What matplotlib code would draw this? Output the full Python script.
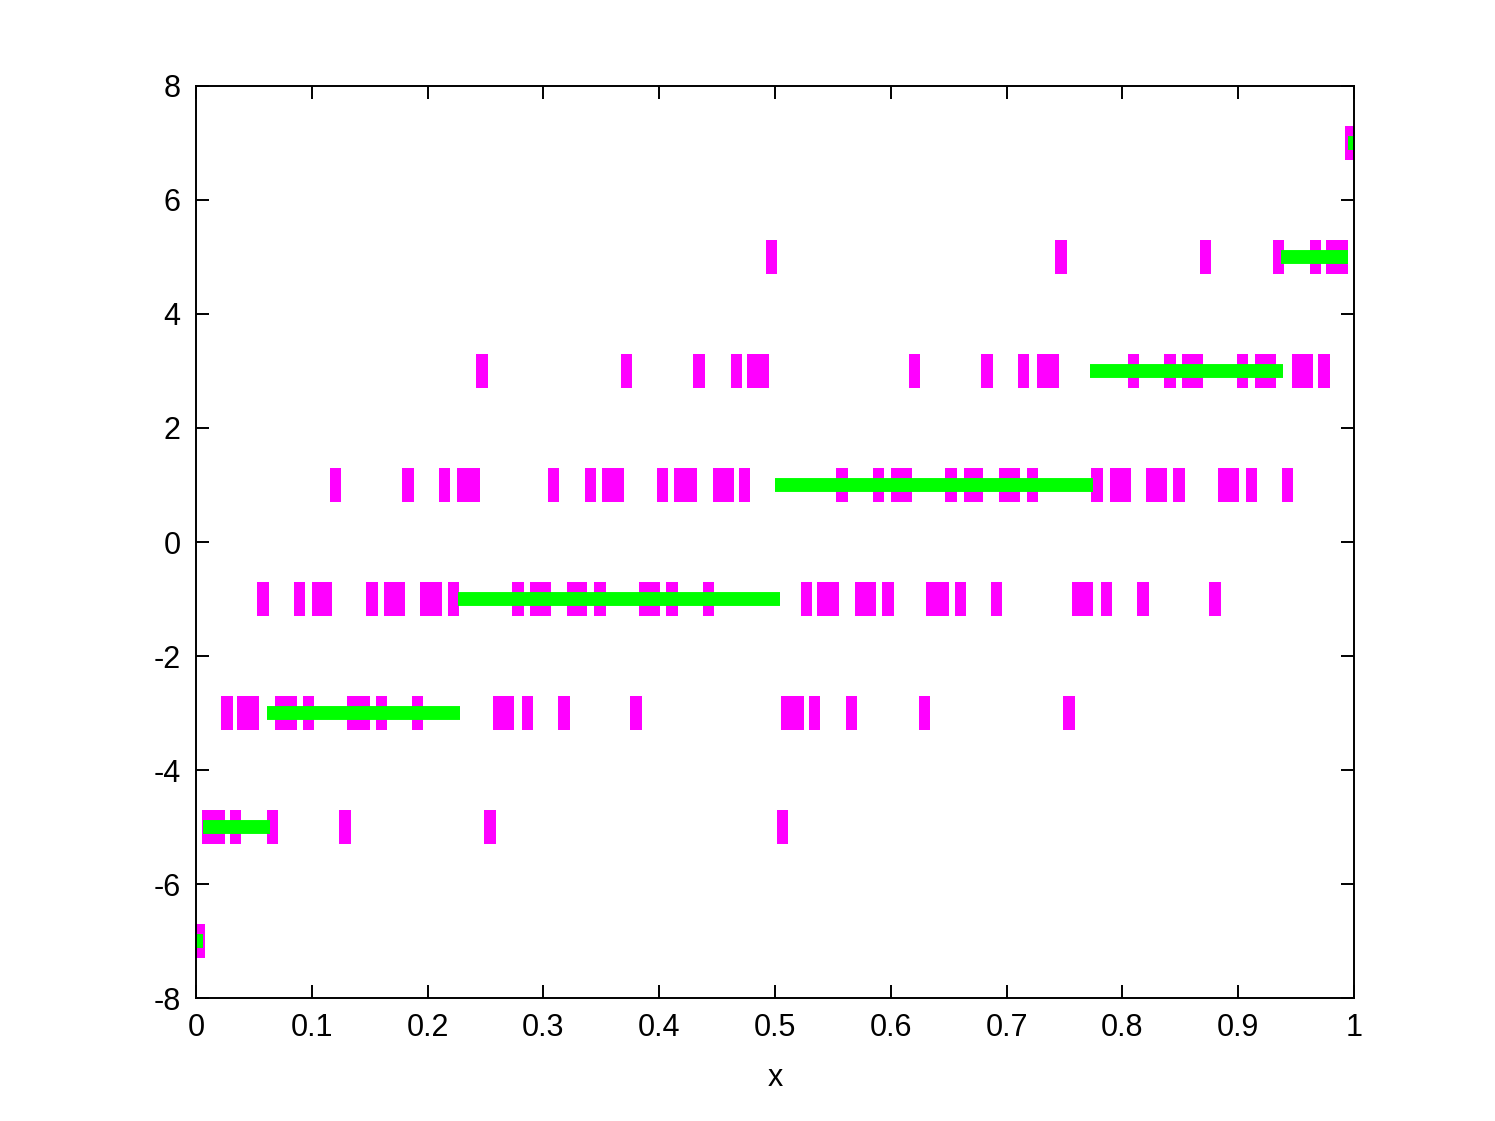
import matplotlib
matplotlib.use("Agg")
import matplotlib.pyplot as plt

plt.rcParams['axes.unicode_minus'] = False

# sample positions (x) for each level (magenta ticks)
levels = [-7, -5, -3, -1, 1, 3, 5, 7]
x_m7 = [0.003]
x_m5 = [0.0104, 0.0199, 0.0339, 0.0662, 0.1287, 0.254, 0.5063]
x_m3 = [0.0267, 0.0406, 0.0497, 0.073, 0.082, 0.0974, 0.1356, 0.145, 0.16, 0.1915,
        0.261, 0.270, 0.2865, 0.3177, 0.380, 0.5104, 0.520, 0.534, 0.566, 0.629, 0.754]
x_m1 = [0.058, 0.0895, 0.1054, 0.1127, 0.152, 0.1675, 0.1757, 0.198, 0.2077, 0.2226,
        0.278, 0.293, 0.302, 0.3256, 0.333, 0.349, 0.3877, 0.3955, 0.411, 0.4427,
        0.527, 0.541, 0.550, 0.574, 0.582, 0.5977, 0.6356, 0.6455, 0.660, 0.6913,
        0.761, 0.770, 0.7864, 0.8178, 0.880]
x_p1 = [0.1205, 0.183, 0.2147, 0.230, 0.240, 0.309, 0.3406, 0.3556, 0.365, 0.403,
        0.418, 0.4275, 0.451, 0.460, 0.4737, 0.558, 0.5895, 0.605, 0.613, 0.652,
        0.668, 0.675, 0.698, 0.707, 0.7226, 0.778, 0.794, 0.8027, 0.8256, 0.8333,
        0.849, 0.8877, 0.896, 0.9114, 0.9427]
x_p3 = [0.247, 0.372, 0.4345, 0.467, 0.481, 0.490, 0.6205, 0.683, 0.7146, 0.731,
        0.740, 0.8096, 0.841, 0.856, 0.865, 0.9037, 0.919, 0.9275, 0.951, 0.960, 0.974]
x_p5 = [0.497, 0.747, 0.872, 0.935, 0.967, 0.981, 0.990]
x_p7 = [0.997]
samples = [x_m7, x_m5, x_m3, x_m1, x_p1, x_p3, x_p5, x_p7]

# piecewise constant level segments (green)
seg_start = [0.0, 0.006, 0.0616, 0.226, 0.5, 0.772, 0.937, 0.995]
seg_end = [0.006, 0.0636, 0.2283, 0.504, 0.775, 0.939, 0.995, 1.0]

fig = plt.figure(figsize=(14.95, 11.21), dpi=100)
ax = fig.add_axes([0.1311, 0.1097, 0.7746, 0.8136])

# magenta ticks
for lev, xs in zip(levels, samples):
    ax.bar(xs, 0.6, bottom=lev - 0.3, width=0.0098, color='#ff00ff', linewidth=0)

# green segments
for lev, a, b in zip(levels, seg_start, seg_end):
    ax.plot([a, b], [lev, lev], color='#00ff00', linewidth=10, solid_capstyle='butt')

ax.set_xlim(0, 1)
ax.set_ylim(-8, 8)
ax.set_xticks([0, 0.1, 0.2, 0.3, 0.4, 0.5, 0.6, 0.7, 0.8, 0.9, 1])
ax.set_xticklabels(['0', '0.1', '0.2', '0.3', '0.4', '0.5', '0.6', '0.7', '0.8', '0.9', '1'])
ax.set_yticks([-8, -6, -4, -2, 0, 2, 4, 6, 8])
ax.set_yticklabels(['-8', '-6', '-4', '-2', '0', '2', '4', '6', '8'])
ax.tick_params(direction='in', length=9.5, width=1.4, top=True, right=True,
               labelsize=22, pad=11)
for sp in ax.spines.values():
    sp.set_linewidth(1.4)
for lbl in ax.get_xticklabels() + ax.get_yticklabels():
    lbl.set_family('Liberation Sans')
ax.set_xlabel('x', fontsize=22, family='Liberation Sans', labelpad=14)

fig.savefig('out.png', dpi=100)
